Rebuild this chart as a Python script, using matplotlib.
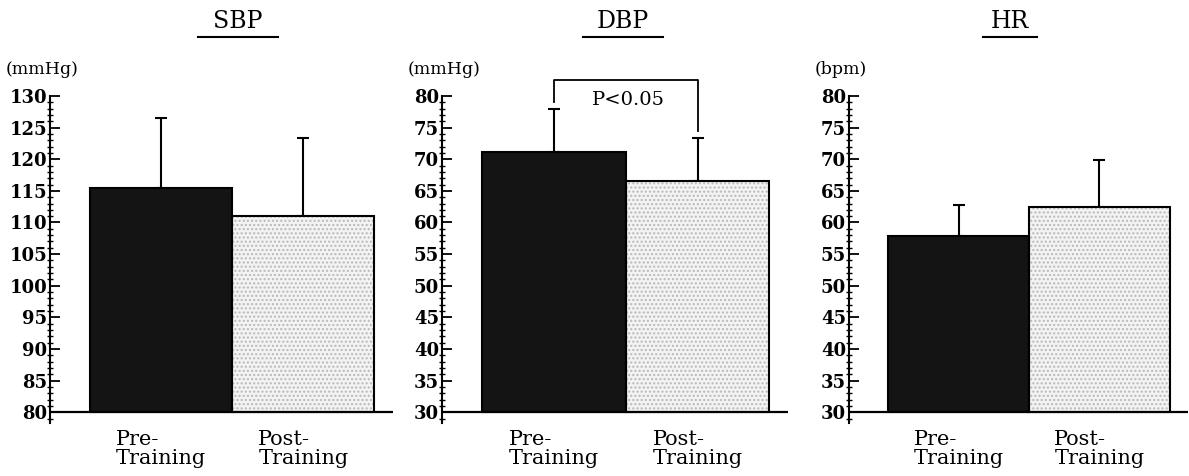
import matplotlib
matplotlib.use('Agg')
import matplotlib.pyplot as plt
from matplotlib.lines import Line2D
from matplotlib.ticker import MultipleLocator

groups = ['Pre-\nTraining', 'Post-\nTraining']

sbp_mean = [115.5, 111.0]
sbp_sd = [11.0, 12.3]
dbp_mean = [71.1, 66.6]
dbp_sd = [6.9, 6.7]
hr_mean = [57.8, 62.5]
hr_sd = [4.9, 7.4]

panels = [
    ('SBP', '(mmHg)', sbp_mean, sbp_sd, 80, 130),
    ('DBP', '(mmHg)', dbp_mean, dbp_sd, 30, 80),
    ('HR', '(bpm)', hr_mean, hr_sd, 30, 80),
]

plt.rcParams['font.family'] = 'DejaVu Serif'

fig = plt.figure(figsize=(11.89, 4.76), dpi=100)
lefts = [50, 442, 849]
widths = [343, 346, 339]
title_x = [238, 623, 1010]
unit_x = [-0.13, -0.10, -0.10]

axes = []
for i, (name, unit, mean, sd, lo, hi) in enumerate(panels):
    ax = fig.add_axes([lefts[i] / 1189, 1 - 423 / 476, widths[i] / 1189, 327 / 476])
    axes.append(ax)
    span = hi - lo
    ax.set_ylim(lo - span * 0.034, hi)
    ax.set_xlim(-0.78, 1.63)

    x = [0, 1]
    heights = [m - lo for m in mean]
    ax.bar(x, heights, bottom=lo, width=1.0, color=['#141414', '#f3f3f3'],
           edgecolor='none', linewidth=0, zorder=2)
    ax.bar(x[1], heights[1], bottom=lo, width=1.0, color='none',
           edgecolor='#b8b8b8', hatch='....', linewidth=0, zorder=2)
    ax.bar(x, heights, bottom=lo, width=1.0, color='none',
           edgecolor='black', linewidth=1.5, zorder=3)
    ax.errorbar(x, mean, yerr=[[0, 0], sd], fmt='none', ecolor='black',
                elinewidth=1.5, capsize=4.5, capthick=1.5, zorder=1)
    ax.axhline(lo, color='black', lw=1.6, zorder=4)

    for s in ['top', 'right', 'bottom']:
        ax.spines[s].set_visible(False)
    ax.spines['left'].set_linewidth(1.5)
    ax.yaxis.set_major_locator(MultipleLocator(5))
    ax.yaxis.set_minor_locator(MultipleLocator(1))
    ax.set_yticks(range(lo, hi + 1, 5))
    ax.tick_params(axis='y', which='major', direction='in', length=7, width=1.3,
                   pad=2, labelsize=13)
    ax.tick_params(axis='y', which='minor', direction='inout', length=4, width=1)
    for lab in ax.get_yticklabels():
        lab.set_fontweight('bold')

    ax.set_xticks(x)
    ax.set_xticklabels(groups, fontsize=15, multialignment='left', linespacing=1.0)
    ax.tick_params(axis='x', length=0, pad=5)

    ax.text(unit_x[i], 1.08, unit, transform=ax.transAxes, fontsize=12.5,
            ha='left', va='center')

    fig.text(title_x[i] / 1189, 1 - 22 / 476, name, fontsize=17, ha='center',
             va='center')
    half = (len(name) * 13 + 1) / 1189
    fig.add_artist(Line2D([title_x[i] / 1189 - half, title_x[i] / 1189 + half],
                          [1 - 37 / 476, 1 - 37 / 476], color='black', lw=1.5))

# significance bracket on DBP
ax = axes[1]
top = 82.5
ax.plot([0, 0, 1, 1],
        [dbp_mean[0] + dbp_sd[0] + 1.0, top, top, dbp_mean[1] + dbp_sd[1] + 1.2],
        color='black', lw=1.3, clip_on=False)
ax.text(0.52, 79.3, 'P<0.05', fontsize=14, ha='center', va='center')

fig.savefig('out.png', dpi=100)
